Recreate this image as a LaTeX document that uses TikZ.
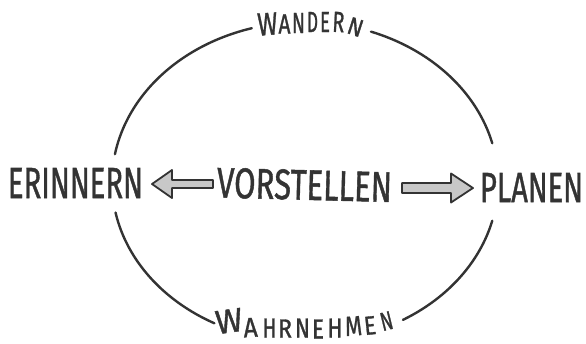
\documentclass[tikz,border=0pt]{standalone}
\usepackage{fontspec}
\usepackage{graphicx}
\setmainfont{Fira Sans}[FakeBold=1.2]
\definecolor{ink}{HTML}{333333}
\definecolor{arrowfill}{HTML}{C8C8C8}
\tikzset{
  word/.style={inner sep=0pt, outer sep=0pt, text=ink, font=\fontsize{40}{40}\selectfont},
  ring/.style={draw=ink, line width=2.4pt, line cap=round, line join=round},
  blockarrow/.style={draw=ink, fill=arrowfill, line width=1.8pt, line join=round},
}
\newcommand{\wordbox}[3]{\resizebox{#1pt}{#2pt}{#3}}
% \letternode{name}{x}{y}{w}{h}{rotation}{letter}
\newcommand{\letternode}[7]{\node[word, rotate=#6] (#1) at (#2,#3) {\wordbox{#4}{#5}{#7}};}
\begin{document}
\begin{tikzpicture}[x=1pt,y=-1pt]
\useasboundingbox (0,0) rectangle (586,343);
% main words
\node[word] (erinnern)   at (75.5,183)  {\wordbox{135}{30}{ERINNERN}};
\node[word, rotate=-1.5] (vorstellen) at (304.5,185) {\wordbox{175}{30}{VORSTELLEN}};
\node[word] (planen)     at (531.5,187.5) {\wordbox{103}{29}{PLANEN}};
% WANDERN, letter by letter along the top
\letternode{wa1}{267.5}{24}{20}{22}{4}{W}
\letternode{wa2}{284.5}{24}{12}{19}{0}{A}
\letternode{wa3}{298.5}{23}{13}{20}{0}{N}
\letternode{wa4}{312.5}{22}{11}{20}{0}{D}
\letternode{wa5}{325}{22}{10}{20}{0}{E}
\letternode{wa6}{338.5}{22}{12}{20}{-3}{R}
\letternode{wa7}{355.5}{27}{15}{17}{-18}{N}
% WAHRNEHMEN, letter by letter along the bottom
\letternode{wh1}{229}{321}{27}{23}{8}{W}
\letternode{wh2}{250.5}{327.5}{14}{19}{3}{A}
\letternode{wh3}{269.5}{328}{14}{19}{0}{H}
\letternode{wh4}{285}{328.5}{14}{18}{0}{R}
\letternode{wh5}{302.5}{328}{15}{19}{0}{N}
\letternode{wh6}{318}{329}{12}{19}{0}{E}
\letternode{wh7}{335}{328}{15}{19}{0}{H}
\letternode{wh8}{353.5}{326}{17}{19}{4}{M}
\letternode{wh9}{370}{325.5}{12}{18}{6}{E}
\letternode{wh10}{386.5}{321}{12}{18}{14}{N}
% ring (four arcs of one ellipse, interrupted by the labels)
\def\cx{305}\def\cy{182}\def\rx{193}\def\ry{160}
\draw[ring] plot[domain=190:254, samples=60, smooth] ({\cx+\rx*cos(\x)},{\cy+\ry*sin(\x)});
\draw[ring] plot[domain=290:346, samples=60, smooth] ({\cx+\rx*cos(\x)},{\cy+\ry*sin(\x)});
\draw[ring] plot[domain=14:59.5, samples=60, smooth] ({\cx+\rx*cos(\x)},{\cy+\ry*sin(\x)});
\draw[ring] plot[domain=118:169, samples=60, smooth] ({\cx+\rx*cos(\x)},{\cy+\ry*sin(\x)});
% arrows
\coordinate (la-tail) at (213,184);
\coordinate (la-tip)  at (152,184);
\coordinate (ra-tail) at (402,188);
\coordinate (ra-tip)  at (473,188);
\draw[blockarrow] ([yshift=-4pt]la-tail) -- ([xshift=20pt,yshift=-4pt]la-tip)
  -- ([xshift=20pt,yshift=-14pt]la-tip) -- (la-tip)
  -- ([xshift=20pt,yshift=14pt]la-tip) -- ([xshift=20pt,yshift=4pt]la-tip)
  -- ([yshift=4pt]la-tail) -- cycle;
\draw[blockarrow] ([yshift=-5pt]ra-tail) -- ([xshift=-22pt,yshift=-5pt]ra-tip)
  -- ([xshift=-22pt,yshift=-14.5pt]ra-tip) -- (ra-tip)
  -- ([xshift=-22pt,yshift=14.5pt]ra-tip) -- ([xshift=-22pt,yshift=5pt]ra-tip)
  -- ([yshift=5pt]ra-tail) -- cycle;
\end{tikzpicture}
\end{document}
